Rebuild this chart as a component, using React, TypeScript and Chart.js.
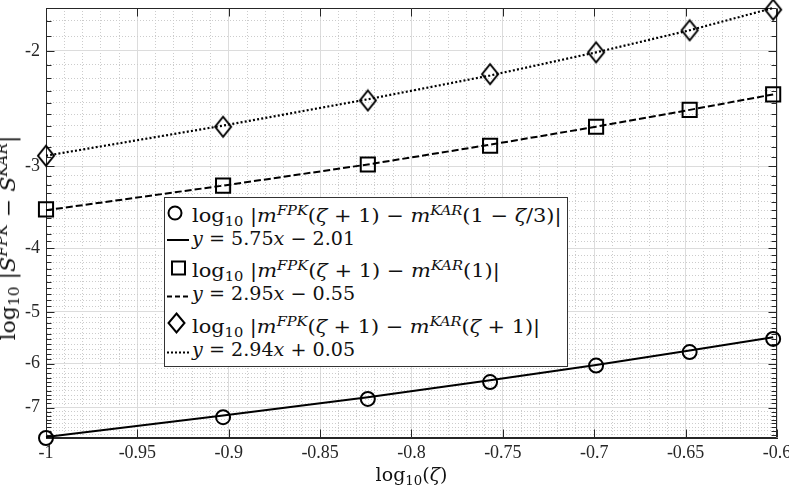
import React, { useEffect, useLayoutEffect, useRef, useState } from 'react';
import { Chart, registerables } from 'chart.js';

Chart.register(...registerables);

// x = log10(zeta)
const xValues = [-1, -0.9031, -0.8239, -0.757, -0.699, -0.6478, -0.6021];
// magnitudes of the (negative) y values; plotted on a reversed log axis labelled with minus signs
const circleValues = [7.79, 7.24, 6.79, 6.4, 6.04, 5.76, 5.5];
const circleFit = [7.76, 7.2, 6.75, 6.36, 6.03, 5.73, 5.47];
const squareValues = [3.49, 3.21, 2.98, 2.79, 2.61, 2.46, 2.33];
const squareFit = [3.5, 3.21, 2.98, 2.78, 2.61, 2.46, 2.33];
const diamondValues = [2.89, 2.61, 2.38, 2.17, 2.01, 1.86, 1.73];
const diamondFit = [2.89, 2.6, 2.37, 2.18, 2.01, 1.86, 1.72];

const xMajorTicks = [-1, -0.95, -0.9, -0.85, -0.8, -0.75, -0.7, -0.65, -0.6];
const xTickLabels = ['-1', '-0.95', '-0.9', '-0.85', '-0.8', '-0.75', '-0.7', '-0.65', '-0.6'];
const yMajorTicks = [2, 3, 4, 5, 6, 7];
const yTickLabels = ['-2', '-3', '-4', '-5', '-6', '-7'];
const xLimits = [-1, -0.6];
const yLimits = [1.72, 7.79];
const xMinorStep = 0.01;
const yMinorStep = 0.1;

const AXIS = '#262626';
const MAJOR_GRID = '#dcdcdc';
const MINOR_GRID = '#cccccc';
const TICK_FONT = '"Liberation Serif", serif';
const MATH_FONT = '"DejaVu Serif", serif';

const near = (a: number, b: number) => Math.abs(a - b) < 1e-7;
const xMinorTicks: number[] = [];
for (let i = 0; xLimits[0] + i * xMinorStep <= xLimits[1] + 1e-9; i++) {
  xMinorTicks.push(+(xLimits[0] + i * xMinorStep).toFixed(4));
}
const yMinorTicks: number[] = [];
for (let i = Math.ceil(yLimits[0] / yMinorStep - 1e-9); i * yMinorStep <= yLimits[1] + 1e-9; i++) {
  yMinorTicks.push(+(i * yMinorStep).toFixed(4));
}
const xMajorIndex = (v: number) => xMajorTicks.findIndex((t) => near(t, v));
const yMajorIndex = (v: number) => yMajorTicks.findIndex((t) => near(t, v));

function makeDiamond(w: number, h: number, lw: number) {
  const c = document.createElement('canvas');
  c.width = w + lw * 2;
  c.height = h + lw * 2;
  const g = c.getContext('2d')!;
  g.strokeStyle = '#000';
  g.lineWidth = lw;
  g.beginPath();
  g.moveTo(c.width / 2, lw);
  g.lineTo(c.width - lw, c.height / 2);
  g.lineTo(c.width / 2, c.height - lw);
  g.lineTo(lw, c.height / 2);
  g.closePath();
  g.stroke();
  return c;
}

const framePlugin = {
  id: 'frame',
  beforeDatasetsDraw(chart: any) {
    const { ctx, chartArea: a, scales } = chart;
    const xs = scales.x;
    const ys = scales.y;
    const L = Math.round(a.left) + 0.5;
    const R = Math.round(a.right) - 0.5;
    const T = Math.round(a.top) + 0.5;
    const B = Math.round(a.bottom) - 0.5;
    ctx.save();
    ctx.strokeStyle = AXIS;
    ctx.lineWidth = 1;
    ctx.setLineDash([]);
    ctx.beginPath();
    ctx.moveTo(L, T);
    ctx.lineTo(R, T);
    ctx.lineTo(R, B);
    ctx.moveTo(L, T);
    ctx.lineTo(L, B);
    ctx.lineTo(R, B);
    for (const v of yMinorTicks) {
      const py = Math.round(ys.getPixelForValue(v)) + 0.5;
      const len = yMajorIndex(v) >= 0 ? 8 : 5;
      ctx.moveTo(L, py);
      ctx.lineTo(L + len, py);
      ctx.moveTo(R, py);
      ctx.lineTo(R - len, py);
    }
    for (const v of xMajorTicks) {
      const px = Math.round(xs.getPixelForValue(v)) + 0.5;
      ctx.moveTo(px, B);
      ctx.lineTo(px, B - 8);
      ctx.moveTo(px, T);
      ctx.lineTo(px, T + 8);
    }
    ctx.stroke();
    ctx.restore();
  },
};

function Sub({ children }: { children: React.ReactNode }) {
  return <span style={{ fontSize: '0.7em', position: 'relative', top: '0.3em', fontStyle: 'normal' }}>{children}</span>;
}
function Sup({ children }: { children: React.ReactNode }) {
  return <span style={{ fontSize: '0.7em', position: 'relative', top: '-0.55em', fontStyle: 'italic' }}>{children}</span>;
}
function It({ children }: { children: React.ReactNode }) {
  return <i>{children}</i>;
}

function FitText({ left, baseline, width, fontSize, children }: any) {
  const ref = useRef<HTMLDivElement>(null);
  const [s, setS] = useState(1);
  useLayoutEffect(() => {
    if (ref.current) {
      const w = ref.current.offsetWidth;
      if (w > 0) setS(width / w);
    }
  }, [width]);
  return (
    <div
      ref={ref}
      style={{
        position: 'absolute',
        left,
        top: baseline - 0.846 * fontSize,
        fontFamily: MATH_FONT,
        fontSize,
        lineHeight: `${fontSize}px`,
        whiteSpace: 'pre',
        transformOrigin: '0 0',
        transform: `scaleX(${s})`,
        color: '#111',
      }}
    >
      {children}
    </div>
  );
}

function RotatedTitle({ cx, cy, width, fontSize, children }: any) {
  const ref = useRef<HTMLSpanElement>(null);
  const [s, setS] = useState(1);
  useLayoutEffect(() => {
    if (ref.current) {
      const w = ref.current.offsetWidth;
      if (w > 0) setS(width / w);
    }
  }, [width]);
  return (
    <div style={{ position: 'absolute', left: cx, top: cy, width: 0, height: 0 }}>
      <span
        ref={ref}
        style={{
          position: 'absolute',
          left: 0,
          top: 0,
          fontFamily: MATH_FONT,
          fontSize,
          lineHeight: `${fontSize}px`,
          whiteSpace: 'pre',
          color: '#111',
          transform: `translate(-50%, -50%) rotate(-90deg) scaleX(${s})`,
        }}
      >
        {children}
      </span>
    </div>
  );
}

export default function App() {
  const canvasRef = useRef<HTMLCanvasElement>(null);

  useEffect(() => {
    const pts = (ys: number[]) => xValues.map((x, i) => ({ x, y: ys[i] }));
    const diamond = makeDiamond(16, 20, 2);
    const chart = new Chart(canvasRef.current!, {
      type: 'scatter',
      data: {
        datasets: [
          { label: 'circles', data: pts(circleValues), showLine: false, pointStyle: 'circle', pointRadius: 7, pointBorderWidth: 2, pointBorderColor: '#000', pointBackgroundColor: 'rgba(0,0,0,0)', clip: false } as any,
          { label: 'squares', data: pts(squareValues), showLine: false, pointStyle: 'rect', pointRadius: 10, pointBorderWidth: 2, pointBorderColor: '#000', pointBackgroundColor: 'rgba(0,0,0,0)', clip: false },
          { label: 'diamonds', data: pts(diamondValues), showLine: false, pointStyle: diamond, pointRadius: 10, clip: false },
          { label: 'fit1', data: pts(circleFit), showLine: true, pointRadius: 0, borderColor: '#000', borderWidth: 2, borderDash: [], clip: false },
          { label: 'fit2', data: pts(squareFit), showLine: true, pointRadius: 0, borderColor: '#000', borderWidth: 2, borderDash: [7, 3], clip: false },
          { label: 'fit3', data: pts(diamondFit), showLine: true, pointRadius: 0, borderColor: '#000', borderWidth: 2.2, borderDash: [2, 2.2], clip: false },
        ],
      },
      options: {
        animation: false,
        responsive: false,
        devicePixelRatio: 1,
        events: [],
        layout: { autoPadding: false, padding: { top: 8, right: 12, left: 0, bottom: 0 } },
        plugins: { legend: { display: false }, tooltip: { enabled: false }, title: { display: false } },
        scales: {
          x: {
            type: 'linear',
            min: xLimits[0],
            max: xLimits[1],
            afterBuildTicks: (s: any) => {
              s.ticks = xMinorTicks.map((v) => ({ value: v }));
              s.min = xLimits[0];
              s.max = xLimits[1];
            },
            afterFit: (s: any) => {
              s.height = 48;
              s.paddingLeft = 0;
              s.paddingRight = 0;
            },
            ticks: {
              autoSkip: false,
              maxRotation: 0,
              minRotation: 0,
              padding: 4,
              color: AXIS,
              font: { family: TICK_FONT, size: 18 },
              callback: (v: any) => {
                const i = xMajorIndex(Number(v));
                return i >= 0 ? xTickLabels[i] : '';
              },
            },
            grid: {
              drawTicks: false,
              lineWidth: 1,
              color: (c: any) => (c.tick && xMajorIndex(c.tick.value) < 0 ? MINOR_GRID : MAJOR_GRID),
            },
            border: {
              color: AXIS,
              width: 1,
              dash: (c: any) => (c.tick && xMajorIndex(c.tick.value) < 0 ? [1, 2] : []),
            },
          },
          y: {
            type: 'logarithmic',
            reverse: true,
            min: yLimits[0],
            max: yLimits[1],
            afterBuildTicks: (s: any) => {
              s.ticks = yMinorTicks.map((v) => ({ value: v }));
              s.min = yLimits[0];
              s.max = yLimits[1];
            },
            afterFit: (s: any) => {
              s.width = 46;
              s.paddingTop = 0;
              s.paddingBottom = 0;
            },
            ticks: {
              autoSkip: false,
              padding: 6,
              color: AXIS,
              font: { family: TICK_FONT, size: 18 },
              callback: (v: any) => {
                const i = yMajorIndex(Number(v));
                return i >= 0 ? yTickLabels[i] : '';
              },
            },
            grid: {
              drawTicks: false,
              lineWidth: 1,
              color: (c: any) => (c.tick && yMajorIndex(c.tick.value) < 0 ? MINOR_GRID : MAJOR_GRID),
            },
            border: {
              color: AXIS,
              width: 1,
              dash: (c: any) => (c.tick && yMajorIndex(c.tick.value) < 0 ? [1, 2] : []),
            },
          },
        },
      } as any,
      plugins: [framePlugin],
    });
    return () => chart.destroy();
  }, []);

  const legendFont = 19;
  const lx = 192;

  return (
    <div style={{ position: 'absolute', left: 0, top: 0, width: 789, height: 486, overflow: 'hidden', background: '#fff' }}>
      <canvas ref={canvasRef} width={789} height={486} style={{ display: 'block', width: 789, height: 486 }} />

      <div style={{ position: 'absolute', left: 164, top: 197, width: 404, height: 170, background: '#fff' }}>
        <svg width={404} height={170} style={{ position: 'absolute', left: 0, top: 0 }}>
          <rect x={0.5} y={0.5} width={403} height={169} fill="#fff" stroke="#333" strokeWidth={1} />
          <circle cx={11} cy={16} r={6.5} fill="none" stroke="#000" strokeWidth={2} />
          <line x1={3} x2={25} y1={43} y2={43} stroke="#000" strokeWidth={2} />
          <rect x={8} y={64.5} width={13} height={13} fill="none" stroke="#000" strokeWidth={2} />
          <line x1={3} x2={25} y1={99.5} y2={99.5} stroke="#000" strokeWidth={2} strokeDasharray="5 3" />
          <polygon points="12.5,116.5 20.5,126 12.5,135.5 4.5,126" fill="none" stroke="#000" strokeWidth={2} />
          <line x1={3} x2={25} y1={155.5} y2={155.5} stroke="#000" strokeWidth={2} strokeDasharray="2 2" />
        </svg>
      </div>

      <FitText left={lx} baseline={222} width={370} fontSize={legendFont}>
        log<Sub>10</Sub> |<It>m</It><Sup>FPK</Sup>(<It>ζ</It> + 1) − <It>m</It><Sup>KAR</Sup>(1 − <It>ζ</It>/3)|
      </FitText>
      <FitText left={lx} baseline={245} width={163} fontSize={legendFont}>
        <It>y</It> = 5.75<It>x</It> − 2.01
      </FitText>
      <FitText left={lx} baseline={277.5} width={308} fontSize={legendFont}>
        log<Sub>10</Sub> |<It>m</It><Sup>FPK</Sup>(<It>ζ</It> + 1) − <It>m</It><Sup>KAR</Sup>(1)|
      </FitText>
      <FitText left={lx} baseline={300.5} width={163} fontSize={legendFont}>
        <It>y</It> = 2.95<It>x</It> − 0.55
      </FitText>
      <FitText left={lx} baseline={333} width={348} fontSize={legendFont}>
        log<Sub>10</Sub> |<It>m</It><Sup>FPK</Sup>(<It>ζ</It> + 1) − <It>m</It><Sup>KAR</Sup>(<It>ζ</It> + 1)|
      </FitText>
      <FitText left={lx} baseline={356} width={163} fontSize={legendFont}>
        <It>y</It> = 2.94<It>x</It> + 0.05
      </FitText>

      <div
        style={{
          position: 'absolute',
          left: 411.5,
          top: 481 - 0.846 * 19,
          transform: 'translateX(-50%)',
          fontFamily: MATH_FONT,
          fontSize: 19,
          lineHeight: '19px',
          whiteSpace: 'pre',
          color: '#111',
        }}
      >
        log<Sub>10</Sub>(<It>ζ</It>)
      </div>

      <RotatedTitle cx={8.6} cy={237.5} width={205} fontSize={20}>
        log<Sub>10</Sub> |<It>S</It><Sup>FPK</Sup> − <It>S</It><Sup>KAR</Sup>|
      </RotatedTitle>
    </div>
  );
}
